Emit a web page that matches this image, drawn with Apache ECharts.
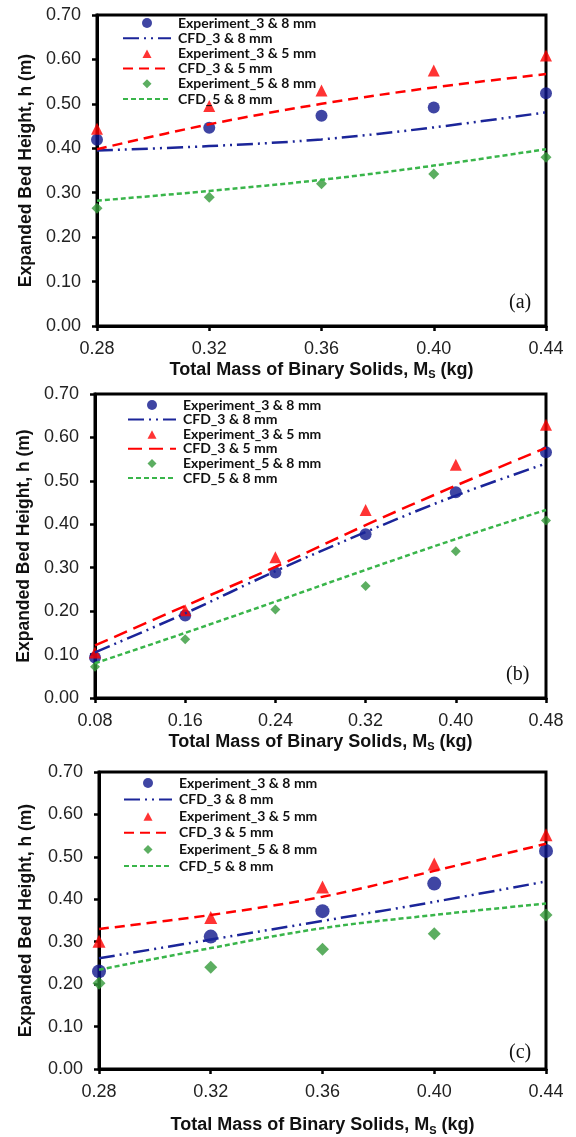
<!DOCTYPE html>
<html>
<head>
<meta charset="utf-8">
<script src="https://cdn.jsdelivr.net/npm/echarts@6/dist/echarts.min.js"></script>
<style>
  html, body { margin: 0; padding: 0; background: #fff; }
  #chart { width: 576px; height: 1137px; }
</style>
</head>
<body>
<div id="chart"></div>
<script>
// Expanded bed height vs. total mass of binary solids, three operating cases (a), (b), (c)

// ---- Panel (a) ----
const massA = [0.28, 0.32, 0.36, 0.40, 0.44];
const aExp38 = [0.419, 0.446, 0.473, 0.492, 0.524];
const aCfd38 = [0.395, 0.405, 0.420, 0.447, 0.481];
const aExp35 = [0.444, 0.495, 0.530, 0.575, 0.609];
const aCfd35 = [0.398, 0.454, 0.500, 0.537, 0.567];
const aExp58 = [0.265, 0.290, 0.320, 0.342, 0.380];
const aCfd58 = [0.282, 0.304, 0.329, 0.361, 0.398];

// ---- Panel (b) ----
const massB = [0.08, 0.16, 0.24, 0.32, 0.40, 0.48];
const bExp38 = [0.093, 0.190, 0.289, 0.377, 0.474, 0.566];
const bCfd38 = [0.105, 0.195, 0.292, 0.382, 0.466, 0.540];
const bExp35 = [0.105, 0.202, 0.324, 0.433, 0.537, 0.629];
const bCfd35 = [0.121, 0.212, 0.302, 0.398, 0.489, 0.576];
const bExp58 = [0.072, 0.135, 0.204, 0.258, 0.338, 0.409];
const bCfd58 = [0.080, 0.150, 0.222, 0.295, 0.366, 0.433];

// ---- Panel (c) ----
const massC = [0.28, 0.32, 0.36, 0.40, 0.44];
const cExp38 = [0.230, 0.312, 0.372, 0.437, 0.514];
const cCfd38 = [0.261, 0.305, 0.349, 0.394, 0.442];
const cExp35 = [0.301, 0.357, 0.429, 0.483, 0.552];
const cCfd35 = [0.330, 0.363, 0.406, 0.467, 0.531];
const cExp58 = [0.202, 0.240, 0.282, 0.319, 0.363];
const cCfd58 = [0.234, 0.285, 0.332, 0.363, 0.390];

// Legend / series names
const seriesNames = [
  'Experiment_3 & 8 mm', 'CFD_3 & 8 mm',
  'Experiment_3 & 5 mm', 'CFD_3 & 5 mm',
  'Experiment_5 & 8 mm', 'CFD_5 & 8 mm'
];
const yTicks = { min: 0, max: 0.7, interval: 0.1 };
const xTitle = 'Total Mass of Binary Solids, M{sub|S} (kg)';
const yTitle = 'Expanded Bed Height, h (m)';
const panelTags = ['(a)', '(b)', '(c)'];

const SANS = '"Liberation Sans", Arial, sans-serif';
const BLUE_PT = '#0f168c', BLUE_LN = '#1b2599';
const RED = '#ff0000';
const GREEN_PT = '#339a3a', GREEN_LN = '#39b54a';

const zip = (xs, ys) => xs.map((x, i) => [x, ys[i]]);

const panels = [
  { key: 'a', x: massA, xMin: 0.28, xMax: 0.44, xStep: 0.04,
    data: [aExp38, aCfd38, aExp35, aCfd35, aExp58, aCfd58],
    grid: { left: 97, top: 15, width: 449, height: 311 },
    legend: { left: 122, top: 16, gap: 1.2 },
    xNameGap: 31, yNameGap: 62, red: [10, 6], mk: [12, 12, 11],
    tag: [523, 305] },
  { key: 'b', x: massB, xMin: 0.08, xMax: 0.48, xStep: 0.08,
    data: [bExp38, bCfd38, bExp35, bCfd35, bExp58, bCfd58],
    grid: { left: 95, top: 394, width: 451, height: 304 },
    legend: { left: 127, top: 398, gap: 0.6 },
    xNameGap: 31, yNameGap: 62, red: [14, 7], mk: [12, 12, 10],
    tag: [520, 677] },
  { key: 'c', x: massC, xMin: 0.28, xMax: 0.44, xStep: 0.04,
    data: [cExp38, cCfd38, cExp35, cCfd35, cExp58, cCfd58],
    grid: { left: 99, top: 772, width: 447, height: 301 },
    legend: { left: 123, top: 776, gap: 2.6 },
    xNameGap: 45, yNameGap: 64, red: [10, 6], mk: [14, 13, 13],
    tag: [523, 1055] }
];

// Legend glyphs for the marker series: a small shape centred in the 48x10 icon box
// (the two leading moveTo points pin the box so the shape is not stretched).
const legendIcons = [
  'circle',
  null,
  'path://M0 0M48 10M19.5 9.5L24 1L28.5 9.5Z',
  null,
  'path://M0 0M48 10M24 0.5L28.5 5L24 9.5L19.5 5Z',
  null
];

const option = {
  animation: false,
  backgroundColor: '#fff',
  grid: [], xAxis: [], yAxis: [], series: [], legend: [], graphic: []
};

panels.forEach((p, gi) => {
  option.grid.push(Object.assign({
    show: true, borderColor: '#000', borderWidth: 3, backgroundColor: 'transparent',
    containLabel: false
  }, p.grid));

  option.xAxis.push({
    gridIndex: gi, type: 'value',
    min: p.xMin, max: p.xMax, interval: p.xStep,
    axisLine: { show: true, lineStyle: { color: '#000', width: 3 } },
    axisTick: { show: true, inside: false, length: 5, lineStyle: { color: '#000', width: 2.5 } },
    axisLabel: { color: '#222', fontSize: 18, fontFamily: SANS, margin: 14,
                 formatter: v => v.toFixed(2) },
    splitLine: { show: false },
    name: xTitle, nameLocation: 'middle', nameGap: p.xNameGap,
    nameTextStyle: {
      color: '#111', fontSize: 18, fontWeight: 'bold', fontFamily: SANS, lineHeight: 22,
      rich: { sub: { fontSize: 11, fontWeight: 'bold', fontFamily: SANS, color: '#111',
                     lineHeight: 12, verticalAlign: 'bottom' } }
    }
  });

  option.yAxis.push({
    gridIndex: gi, type: 'value',
    min: yTicks.min, max: yTicks.max, interval: yTicks.interval,
    axisLine: { show: true, lineStyle: { color: '#000', width: 3 } },
    axisTick: { show: true, inside: false, length: 5, lineStyle: { color: '#000', width: 2.5 } },
    axisLabel: { color: '#222', fontSize: 18, fontFamily: SANS, margin: 16,
                 formatter: v => v.toFixed(2) },
    splitLine: { show: false },
    name: yTitle, nameLocation: 'middle', nameGap: p.yNameGap, nameRotate: 90,
    nameTextStyle: { color: '#111', fontSize: 17.5, fontWeight: 'bold', fontFamily: SANS }
  });

  const names = seriesNames.map(n => p.key + ':' + n);
  const [exp38, cfd38, exp35, cfd35, exp58, cfd58] = p.data;

  const scatter = (name, vals, symbol, size, color) => ({
    name, type: 'scatter', xAxisIndex: gi, yAxisIndex: gi,
    data: zip(p.x, vals), symbol, symbolSize: size,
    itemStyle: { color }, z: 3
  });
  const line = (name, vals, color, dash) => ({
    name, type: 'line', xAxisIndex: gi, yAxisIndex: gi,
    data: zip(p.x, vals), symbol: 'none', smooth: 0.35,
    lineStyle: { color, width: 2.5, type: dash, cap: 'butt' },
    itemStyle: { color }, z: 4
  });

  option.series.push(
    scatter(names[0], exp38, 'circle', p.mk[0], BLUE_PT),
    line(names[1], cfd38, BLUE_LN, [16, 5, 2, 5, 2, 5]),
    scatter(names[2], exp35, 'triangle', p.mk[1], RED),
    line(names[3], cfd35, RED, p.red),
    scatter(names[4], exp58, 'diamond', p.mk[2], GREEN_PT),
    line(names[5], cfd58, GREEN_LN, [5, 3])
  );

  // marker entries keep their symbol shape; line entries show only the stroke
  const legendData = names.map((n, i) => legendIcons[i]
    ? { name: n, icon: legendIcons[i] }
    : { name: n, itemStyle: { opacity: 0 } });

  option.legend.push({
    data: legendData, orient: 'vertical',
    left: p.legend.left, top: p.legend.top, padding: 0,
    itemWidth: 48, itemHeight: 10, itemGap: p.legend.gap,
    selectedMode: false,
    formatter: n => n.slice(2),
    textStyle: { fontFamily: 'Lato, "Open Sans", sans-serif', fontWeight: 'bold',
                 fontSize: 14, color: '#111', lineHeight: 14, padding: [0, 0, 0, 2] }
  });

  option.graphic.push({
    type: 'text', left: p.tag[0] - 14, top: p.tag[1] - 12,
    style: { text: panelTags[gi], font: '20px "Liberation Serif", "Times New Roman", serif',
             fill: '#111' }
  });
});

const chart = echarts.init(document.getElementById('chart'), null, { renderer: 'canvas' });
chart.setOption(option);
</script>
</body>
</html>
